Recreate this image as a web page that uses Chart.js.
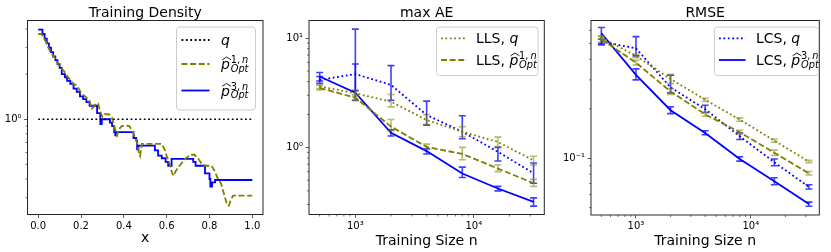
<!DOCTYPE html>
<html><head><meta charset="utf-8">
<script src="https://cdn.jsdelivr.net/npm/chart.js@4/dist/chart.umd.min.js"></script>
<style>html,body{margin:0;padding:0;background:#fff;overflow:hidden}canvas{position:absolute;left:0;top:0}</style>
</head><body>
<canvas id="c1" width="831" height="252"></canvas>
<canvas id="c2" width="831" height="252"></canvas>
<canvas id="c3" width="831" height="252"></canvas>
<script>
// ---------- DATA ----------
// Panel 1: Training Density
const densityQX = [0, 1];
const densityQY = [1, 1];
const densityP3X = [0,0.02,0.03,0.04,0.05,0.06,0.07,0.08,0.09,0.10,0.11,0.125,0.135,0.15,0.165,0.18,0.195,0.21,0.225,0.24,0.275,0.29,0.297,0.335,0.345,0.355,0.36,0.366,0.445,0.458,0.462,0.468,0.545,0.56,0.577,0.595,0.607,0.623,0.724,0.735,0.779,0.80,0.804,0.812,0.826,1.0];
const densityP3Y = [3.96,3.7,3.45,3.2,3.0,2.8,2.62,2.48,2.33,2.2,2.0,1.9,1.8,1.72,1.6,1.52,1.42,1.36,1.3,1.23,1.1,0.93,1.0,0.95,0.9,0.82,0.78,0.82,0.75,0.72,0.63,0.668,0.62,0.573,0.55,0.52,0.49,0.544,0.52,0.49,0.436,0.40,0.356,0.38,0.394,0.394];
const densityP1X = [0,0.015,0.025,0.035,0.045,0.055,0.065,0.075,0.085,0.095,0.105,0.12,0.135,0.15,0.165,0.18,0.195,0.21,0.225,0.24,0.25,0.258,0.268,0.28,0.29,0.30,0.31,0.33,0.345,0.355,0.368,0.378,0.39,0.41,0.425,0.44,0.452,0.462,0.47,0.476,0.484,0.577,0.59,0.60,0.615,0.625,0.632,0.642,0.655,0.67,0.69,0.71,0.73,0.75,0.765,0.78,0.81,0.825,0.84,0.855,0.87,0.882,0.89,0.90,0.91,1.0];
const densityP1Y = [3.7,3.7,3.5,3.3,3.05,2.85,2.7,2.6,2.45,2.3,2.2,2.1,1.95,1.82,1.72,1.68,1.55,1.45,1.4,1.32,1.18,1.2,1.27,1.27,1.12,1.04,1.08,1.08,1.02,0.9,0.78,0.86,0.9,0.91,0.9,0.84,0.76,0.7,0.6,0.57,0.685,0.685,0.63,0.57,0.5,0.44,0.42,0.45,0.48,0.51,0.55,0.58,0.58,0.54,0.5,0.49,0.49,0.45,0.4,0.37,0.31,0.27,0.266,0.29,0.31,0.31];
const densityXTicks = [0, 0.2, 0.4, 0.6, 0.8, 1.0];
const densityXTickLabels = ['0.0', '0.2', '0.4', '0.6', '0.8', '1.0'];
const densityYTicks = [1];
const densityYTickLabels = ['10\u2070'];
const densityYMinor = [0.3,0.4,0.5,0.6,0.7,0.8,0.9,2,3,4];

// Panels 2 & 3
const trainingSizes = [500, 1000, 2000, 4000, 8000, 16000, 32000];
const sizeTicks = [1000, 10000];
const sizeTickLabels = ['10\u00b3', '10\u2074'];
const sizeMinor = [500,600,700,800,900,2000,3000,4000,5000,6000,7000,8000,9000,20000,30000];

const maxAE_LLS_q    = [3.62, 3.13, 2.62, 1.78, 1.39, 1.12, 0.76];
const maxAE_LLS_q_lo = [3.45, 2.95, 2.35, 1.62, 1.25, 1.02, 0.69];
const maxAE_LLS_q_hi = [3.80, 3.35, 3.05, 2.00, 1.55, 1.24, 0.83];
const maxAE_LLS_p    = [3.50, 2.85, 1.55, 1.01, 0.87, 0.64, 0.47];
const maxAE_LLS_p_lo = [3.35, 2.68, 1.42, 0.96, 0.77, 0.60, 0.44];
const maxAE_LLS_p_hi = [3.68, 3.05, 1.80, 1.07, 1.00, 0.69, 0.51];
const maxAE_LCS_q    = [4.14, 4.70, 3.73, 1.98, 1.39, 0.91, 0.58];
const maxAE_LCS_q_lo = [3.85, 3.30, 2.70, 1.60, 1.20, 0.75, 0.47];
const maxAE_LCS_q_hi = [4.45, 12.1, 5.60, 2.65, 1.95, 1.00, 0.72];
const maxAE_LCS_p    = [4.45, 3.17, 1.36, 0.925, 0.577, 0.42, 0.317];
const maxAE_LCS_p_lo = [4.05, 2.70, 1.27, 0.87, 0.53, 0.40, 0.29];
const maxAE_LCS_p_hi = [4.85, 5.80, 1.45, 0.97, 0.66, 0.44, 0.345];
const maxAEYTicks = [1, 10];
const maxAEYTickLabels = ['10\u2070', '10\u00b9'];
const maxAEYMinor = [0.3,0.4,0.5,0.6,0.7,0.8,0.9,2,3,4,5,6,7,8,9];

const rmse_LLS_q    = [0.543, 0.420, 0.304, 0.227, 0.172, 0.128, 0.0953];
const rmse_LLS_q_lo = [0.530, 0.410, 0.285, 0.222, 0.168, 0.125, 0.094];
const rmse_LLS_q_hi = [0.556, 0.430, 0.325, 0.232, 0.176, 0.131, 0.097];
const rmse_LLS_p    = [0.530, 0.382, 0.255, 0.185, 0.144, 0.108, 0.0808];
const rmse_LLS_p_lo = [0.510, 0.370, 0.245, 0.180, 0.140, 0.104, 0.079];
const rmse_LLS_p_hi = [0.550, 0.395, 0.265, 0.190, 0.148, 0.112, 0.083];
const rmse_LCS_q    = [0.513, 0.467, 0.270, 0.199, 0.136, 0.0945, 0.0668];
const rmse_LCS_q_lo = [0.500, 0.420, 0.250, 0.190, 0.130, 0.090, 0.065];
const rmse_LCS_q_hi = [0.530, 0.550, 0.320, 0.210, 0.143, 0.099, 0.069];
const rmse_LCS_p    = [0.577, 0.322, 0.196, 0.1426, 0.099, 0.0724, 0.0527];
const rmse_LCS_p_lo = [0.490, 0.300, 0.187, 0.139, 0.096, 0.069, 0.051];
const rmse_LCS_p_hi = [0.625, 0.350, 0.206, 0.147, 0.102, 0.076, 0.054];
const rmseYTicks = [0.1];
const rmseYTickLabels = ['10\u207b\u00b9'];
const rmseYMinor = [0.05,0.06,0.07,0.08,0.09,0.2,0.3,0.4,0.5,0.6];

const titles = ['Training Density', 'max AE', 'RMSE'];
const xLabels = ['x', 'Training Size n', 'Training Size n'];

// ---------- STYLE ----------
const W = 831, H = 252, YW = 30;
const FONT = '"DejaVu Sans", sans-serif';
const BLUE = '#0000ff', OLIVE = '#808000';
const DOT = [1.8, 2.6], DASH = [6, 2.6];
const LW = 1.8;

function pts(xs, ys) { return xs.map((x, i) => ({x, y: ys[i]})); }

function drawLabel(ctx, x, y, lab, size) {
  ctx.fillStyle = '#000'; ctx.textBaseline = 'alphabetic'; ctx.textAlign = 'left';
  const base = y + size * 0.36;
  let cx = x;
  if (lab.prefix) {
    ctx.font = size + 'px ' + FONT;
    ctx.fillText(lab.prefix, cx, base);
    cx += ctx.measureText(lab.prefix).width;
  }
  ctx.font = 'italic ' + size + 'px ' + FONT;
  ctx.fillText(lab.sym, cx, base);
  const w = ctx.measureText(lab.sym).width;
  if (lab.hat) {
    ctx.save(); ctx.strokeStyle = '#000'; ctx.lineWidth = 0.9; ctx.beginPath();
    ctx.moveTo(cx + 1.2, base - size * 0.66);
    ctx.lineTo(cx + w * 0.62, base - size * 0.86);
    ctx.lineTo(cx + w + 1.2, base - size * 0.66);
    ctx.stroke(); ctx.restore();
  }
  cx += w + 0.8;
  const s2 = size * 0.7;
  if (lab.sup) {
    const sb = base - size * 0.42;
    ctx.font = s2 + 'px ' + FONT;
    ctx.fillText(lab.sup, cx, sb);
    const sw = ctx.measureText(lab.sup + '\u2009').width;
    if (lab.supVar) { ctx.font = 'italic ' + s2 + 'px ' + FONT; ctx.fillText(lab.supVar, cx + sw, sb); }
  }
  if (lab.sub) { ctx.font = 'italic ' + s2 + 'px ' + FONT; ctx.fillText(lab.sub, cx, base + size * 0.2); }
}

const decorPlugin = {
  id: 'decor',
  afterDatasetDraw(chart, args, opts) {
    const ds = chart.data.datasets[args.index];
    if (!ds.errLo) return;
    const ctx = chart.ctx, ys = chart.scales.y, xs = chart.scales.x;
    ctx.save();
    ctx.strokeStyle = ds.errColor; ctx.lineWidth = 1.6; ctx.setLineDash([]);
    ds.data.forEach((p, i) => {
      const x = xs.getPixelForValue(p.x);
      const y0 = ys.getPixelForValue(ds.errLo[i]), y1 = ys.getPixelForValue(ds.errHi[i]);
      ctx.beginPath();
      ctx.moveTo(x, y0); ctx.lineTo(x, y1);
      ctx.moveTo(x - 3.5, y0); ctx.lineTo(x + 3.5, y0);
      ctx.moveTo(x - 3.5, y1); ctx.lineTo(x + 3.5, y1);
      ctx.stroke();
    });
    ctx.restore();
  },
  afterDraw(chart, args, opts) {
    const ctx = chart.ctx, a = chart.chartArea;
    ctx.save();
    ctx.strokeStyle = '#262626'; ctx.lineWidth = 1; ctx.setLineDash([]);
    ctx.strokeRect(a.left, a.top, a.right - a.left, a.bottom - a.top);
    ctx.beginPath();
    (opts.xMinor || []).forEach(v => {
      const x = chart.scales.x.getPixelForValue(v);
      ctx.moveTo(x, a.bottom); ctx.lineTo(x, a.bottom + 2);
    });
    (opts.yMinor || []).forEach(v => {
      const y = chart.scales.y.getPixelForValue(v);
      ctx.moveTo(a.left, y); ctx.lineTo(a.left - 2, y);
    });
    ctx.lineWidth = 0.7; ctx.strokeStyle = '#333'; ctx.stroke();
    ctx.fillStyle = '#000'; ctx.font = '14px ' + FONT; ctx.textAlign = 'center'; ctx.textBaseline = 'alphabetic';
    ctx.fillText(opts.title, (a.left + a.right) / 2, 16.5);
    const L = opts.legend;
    const [x0, y0, x1, y1] = L.box;
    ctx.beginPath();
    if (ctx.roundRect) ctx.roundRect(x0 + 0.5, y0 + 0.5, x1 - x0, y1 - y0, 3); else ctx.rect(x0 + 0.5, y0 + 0.5, x1 - x0, y1 - y0);
    ctx.fillStyle = 'rgba(255,255,255,0.8)'; ctx.fill();
    ctx.strokeStyle = '#cccccc'; ctx.lineWidth = 1; ctx.stroke();
    L.items.forEach(it => {
      ctx.beginPath(); ctx.setLineDash(it.dash); ctx.strokeStyle = it.color; ctx.lineWidth = LW;
      ctx.moveTo(L.sx0, it.y); ctx.lineTo(L.sx1, it.y); ctx.stroke();
      ctx.setLineDash([]);
      drawLabel(ctx, L.tx, it.y, it.label, L.size);
    });
    ctx.restore();
  }
};

function makeChart(id, frame, datasets, xCfg, yCfg, decor) {
  const tickFont = {family: FONT, size: 10};
  const axisCommon = {
    bounds: 'data',
    grid: {drawOnChartArea: false, drawTicks: true, tickLength: 3.5, tickColor: '#333', tickWidth: 0.8},
    border: {display: false},
  };
  return new Chart(document.getElementById(id), {
    type: 'line',
    data: {datasets},
    plugins: [decorPlugin],
    options: {
      responsive: false, animation: false, events: [],
      layout: {padding: {left: frame.l - YW, right: W - frame.r, top: frame.t, bottom: 0}},
      plugins: {legend: {display: false}, tooltip: {enabled: false}, title: {display: false}, decor},
      elements: {point: {radius: 0}, line: {tension: 0}},
      scales: {
        x: Object.assign({}, axisCommon, {
          type: xCfg.type, min: xCfg.min, max: xCfg.max,
          afterFit: s => { s.height = H - frame.b; },
          afterBuildTicks: s => { s.ticks = xCfg.ticks.map(v => ({value: v})); },
          ticks: {font: tickFont, color: '#000', padding: 2, maxRotation: 0, autoSkip: false,
                  callback: (v, i) => xCfg.labels[i]},
          title: {display: true, text: xCfg.title, font: {family: FONT, size: 14}, color: '#000',
                  padding: {top: 0, bottom: xCfg.titlePad}}
        }),
        y: Object.assign({}, axisCommon, {
          type: 'logarithmic', min: yCfg.min, max: yCfg.max,
          afterFit: s => { s.width = YW; },
          afterBuildTicks: s => { s.ticks = yCfg.ticks.map(v => ({value: v})); },
          ticks: {font: tickFont, color: '#000', padding: 2.5, autoSkip: false,
                  callback: (v, i) => yCfg.labels[i]}
        })
      }
    }
  });
}

function errDs(label, ys, lo, hi, color, dash, errColor) {
  return {label, data: pts(trainingSizes, ys), borderColor: color, borderWidth: LW,
          borderDash: dash, errLo: lo, errHi: hi, errColor};
}

const OLIVE_ERR = 'rgba(128,128,0,0.55)', BLUE_ERR = 'rgba(0,0,255,0.75)';
const labQ = p => ({prefix: p, sym: 'q'});
const labP = (p, k) => ({prefix: p, sym: 'p', hat: true, sup: k + ',', supVar: 'n', sub: 'Opt'});

makeChart('c1', {l: 27.5, r: 263, t: 20.5, b: 214.5}, [
  {label: 'q', data: pts(densityQX, densityQY), borderColor: '#000', borderWidth: 1.5, borderDash: DOT},
  {label: 'p1', data: pts(densityP1X, densityP1Y), borderColor: OLIVE, borderWidth: LW, borderDash: DASH},
  {label: 'p3', data: pts(densityP3X, densityP3Y), borderColor: BLUE, borderWidth: LW, stepped: true},
], {type: 'linear', min: -0.05, max: 1.05, ticks: densityXTicks, labels: densityXTickLabels, title: xLabels[0], titlePad: 5},
   {min: 0.232, max: 4.55, ticks: densityYTicks, labels: densityYTickLabels},
   {title: titles[0], yMinor: densityYMinor,
    legend: {box: [176, 26.5, 255, 109.5], sx0: 181.5, sx1: 209.5, tx: 221, size: 14, items: [
      {y: 40, color: '#000', dash: DOT, label: {sym: 'q'}},
      {y: 64, color: OLIVE, dash: DASH, label: labP('', 1)},
      {y: 90.5, color: BLUE, dash: [], label: labP('', 3)},
    ]}});

makeChart('c2', {l: 309, r: 544.3, t: 20.5, b: 214.5}, [
  errDs('LLS q', maxAE_LLS_q, maxAE_LLS_q_lo, maxAE_LLS_q_hi, OLIVE, DOT, OLIVE_ERR),
  errDs('LLS p', maxAE_LLS_p, maxAE_LLS_p_lo, maxAE_LLS_p_hi, OLIVE, DASH, OLIVE_ERR),
  errDs('LCS q', maxAE_LCS_q, maxAE_LCS_q_lo, maxAE_LCS_q_hi, BLUE, DOT, BLUE_ERR),
  errDs('LCS p', maxAE_LCS_p, maxAE_LCS_p_lo, maxAE_LCS_p_hi, BLUE, [], BLUE_ERR),
], {type: 'logarithmic', min: 406.2, max: 39400, ticks: sizeTicks, labels: sizeTickLabels, title: xLabels[1], titlePad: 2.5},
   {min: 0.243, max: 14.5, ticks: maxAEYTicks, labels: maxAEYTickLabels},
   {title: titles[1], xMinor: sizeMinor, yMinor: maxAEYMinor,
    legend: {box: [436, 26.5, 537.5, 75], sx0: 441, sx1: 467, tx: 476, size: 14, items: [
      {y: 38.3, color: OLIVE, dash: DOT, label: labQ('LLS, ')},
      {y: 60, color: OLIVE, dash: DASH, label: labP('LLS, ', 1)},
    ]}});

makeChart('c3', {l: 591, r: 819.3, t: 20.5, b: 215}, [
  errDs('LLS q', rmse_LLS_q, rmse_LLS_q_lo, rmse_LLS_q_hi, OLIVE, DOT, OLIVE_ERR),
  errDs('LLS p', rmse_LLS_p, rmse_LLS_p_lo, rmse_LLS_p_hi, OLIVE, DASH, OLIVE_ERR),
  errDs('LCS q', rmse_LCS_q, rmse_LCS_q_lo, rmse_LCS_q_hi, BLUE, DOT, BLUE_ERR),
  errDs('LCS p', rmse_LCS_p, rmse_LCS_p_lo, rmse_LCS_p_hi, BLUE, [], BLUE_ERR),
], {type: 'logarithmic', min: 406.2, max: 39400, ticks: sizeTicks, labels: sizeTickLabels, title: xLabels[2], titlePad: 2.5},
   {min: 0.0451, max: 0.69, ticks: rmseYTicks, labels: rmseYTickLabels},
   {title: titles[2], xMinor: sizeMinor, yMinor: rmseYMinor,
    legend: {box: [714, 26.5, 818, 75], sx0: 719, sx1: 745.5, tx: 756, size: 14, items: [
      {y: 38.3, color: BLUE, dash: DOT, label: labQ('LCS, ')},
      {y: 60, color: BLUE, dash: [], label: labP('LCS, ', 3)},
    ]}});
</script>
</body></html>
